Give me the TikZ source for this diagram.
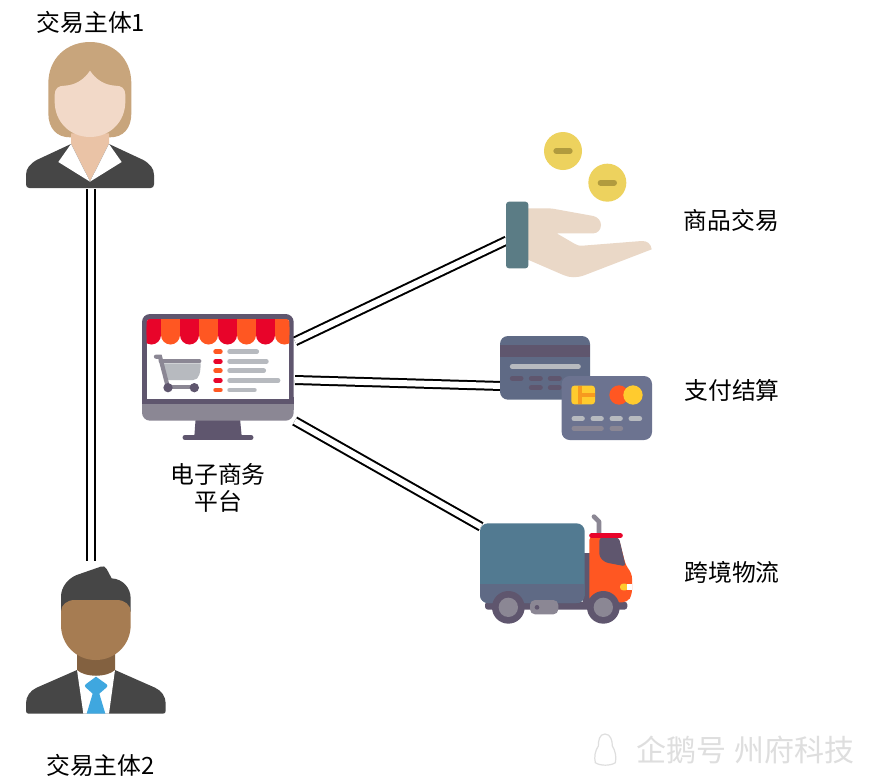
\documentclass[tikz,border=0pt]{standalone}
\usepackage{fontspec}
\newfontfamily\cjk{Noto Sans CJK SC}
\definecolor{hairA}{HTML}{C8A57C}
\definecolor{skinA}{HTML}{F2D9C8}
\definecolor{neckA}{HTML}{EAC3A6}
\definecolor{suit}{HTML}{464646}
\definecolor{skinB}{HTML}{A67C52}
\definecolor{neckB}{HTML}{836140}
\definecolor{tie}{HTML}{3FA7DF}
\definecolor{mdark}{HTML}{5F566E}
\definecolor{mgray}{HTML}{8B8794}
\definecolor{lgray}{HTML}{B7BABF}
\definecolor{ared}{HTML}{E8042A}
\definecolor{aorange}{HTML}{FF5722}
\definecolor{coin}{HTML}{EDD25E}
\definecolor{coinbar}{HTML}{B19B3E}
\definecolor{cuff}{HTML}{5B7C85}
\definecolor{hand}{HTML}{EAD8C7}
\definecolor{cardA}{HTML}{5F6A85}
\definecolor{cardB}{HTML}{6C7390}
\definecolor{yel}{HTML}{FFCB2E}
\definecolor{chipo}{HTML}{F79A1F}
\definecolor{cargo}{HTML}{527A91}
\definecolor{wm}{HTML}{DEDEDE}
\tikzset{
  lbl/.style={font=\cjk\fontsize{23.8}{27}\selectfont,text=black,inner sep=0pt,align=center},
  wmark/.style={font=\cjk\fontsize{30}{32}\selectfont,text=wm,inner sep=0pt},
  link/.style={draw=black,line width=2pt,double=white,double distance=6pt},
  zoomed/.style={scale=0.33333},
  bar/.style={line width=#1,line cap=round},
}
\begin{document}
\begin{tikzpicture}[x=1pt,y=-1pt]
\useasboundingbox (0,0) rectangle (872,782);
\fill[white] (0,0) rectangle (872,782);
% connector ends
\coordinate (w1) at (91,189);
\coordinate (m1) at (91,561);
\coordinate (pa) at (295,341.3);
\coordinate (ha) at (506.7,240.5);
\coordinate (pb) at (295,380);
\coordinate (cb) at (502,386);
\coordinate (pc) at (294.7,421);
\coordinate (tc) at (481,526.7);
\draw[link] (w1) -- (m1);
\draw[link] (pa) -- (ha);
\draw[link] (pb) -- (cb);
\draw[link] (pc) -- (tc);
% woman
\begin{scope}[shift={(0,0)},zoomed]
\fill[hairA] (145,340) -- (145,250) .. controls (145,175) and (200,126) .. (270,126) .. controls (340,126) and (394,175) .. (394,250) -- (394,340) .. controls (394,385) and (370,412) .. (330,412) -- (210,412) .. controls (170,412) and (145,385) .. (145,340) -- cycle;
\fill[neckA] (213,400) -- (327,400) -- (327,432) -- (270,545) -- (213,432) -- cycle;
\fill[suit] (213,432) -- (110,480) .. controls (90,492) and (78,505) .. (78,525) -- (78,553) .. controls (78,560) and (82,564) .. (88,564) -- (452,564) .. controls (458,564) and (462,560) .. (462,553) -- (462,525) .. controls (462,505) and (450,492) .. (430,480) -- (327,432) -- (270,545) -- cycle;
\fill[white] (213,432) -- (175,486) -- (270,545) -- cycle;
\fill[white] (327,432) -- (365,486) -- (270,545) -- cycle;
\fill[skinA] (164,285) .. controls (164,265) and (175,257) .. (195,257) .. controls (230,255) and (255,235) .. (270,212) .. controls (285,235) and (310,255) .. (345,257) .. controls (365,257) and (376,265) .. (376,285) -- (376,305) .. controls (376,365) and (330,411) .. (270,411) .. controls (210,411) and (164,365) .. (164,305) -- cycle;
\end{scope}
% man
\begin{scope}[shift={(10,555)},zoomed]
\fill[suit] (201,345) -- (80,398) .. controls (60,407) and (48,425) .. (48,445) -- (48,468) .. controls (48,473) and (51,476) .. (56,476) -- (459,476) .. controls (464,476) and (467,473) .. (467,468) -- (467,445) .. controls (467,425) and (455,407) .. (435,398) -- (315,345) -- cycle;
\fill[white] (201,345) -- (220,476) -- (297,476) -- (315,345) -- cycle;
\fill[neckB] (201,290) -- (315,290) -- (315,345) .. controls (290,368) and (226,368) .. (201,345) -- cycle;
\fill[tie] (258,365) -- (290,388) .. controls (293,391) and (293,394) .. (290,397) -- (268,416) -- (286,476) -- (230,476) -- (248,416) -- (227,397) .. controls (224,394) and (224,391) .. (227,388) -- cycle;
\fill[suit] (153,170) -- (153,125) .. controls (153,95) and (175,70) .. (200,60) -- (272,35) .. controls (280,32) and (286,34) .. (290,42) -- (305,70) .. controls (340,72) and (362,100) .. (362,130) -- (362,170) -- cycle;
\fill[skinB] (153,170) .. controls (153,150) and (170,135) .. (195,135) -- (320,135) .. controls (345,135) and (362,150) .. (362,170) -- (362,210) .. controls (362,270) and (315,315) .. (257,315) .. controls (200,315) and (153,270) .. (153,210) -- cycle;
\end{scope}
% monitor
\begin{scope}[shift={(130,300)},zoomed]
\fill[mdark] (197,355) -- (330,355) -- (335,408) -- (193,408) -- cycle;
\draw[mdark,bar=5pt] (165,412.5) -- (363,412.5);
\fill[mgray,rounded corners=8pt] (36,300) rectangle (491,362);
\fill[mdark,rounded corners=8pt] (36,42) -- (491,42) -- (491,312) -- (36,312) -- cycle;
\fill[mgray] (36,312) rectangle (491,330);
\fill[mdark] (36,290) rectangle (491,312);
\fill[white] (50,60) rectangle (478,297);
\begin{scope}
\clip[rounded corners=3pt] (50,57) rectangle (478,140);
\foreach \c/\k in {64.5/ared,121.5/aorange,178.5/ared,235.5/aorange,292.5/ared,349.5/aorange,406.5/ared,463.5/aorange}{
  \fill[\k] (\c-28.5,50) rectangle (\c+28.5,105);
  \fill[\k] (\c,105) ellipse [x radius=28.5,y radius=28.5];
}
\end{scope}
% cart
\fill[lgray] (98,190) -- (212,190) .. controls (212,215) and (208,240) .. (190,240) -- (113,240) -- cycle;
\draw[mgray,bar=4.2pt] (92,184) -- (208,184);
\draw[mgray,bar=4.2pt] (78,170) -- (90,170) -- (112,255);
\draw[mgray,line width=4pt] (114,262) -- (193,262);
\fill[mdark] (114,263) circle (14) (193,263) circle (14);
% list
\foreach \y/\k/\e in {155/aorange/380,184/ared/409,212/aorange/401,241/ared/444,270/aorange/373}{
  \draw[\k,bar=4.8pt] (257,\y) -- (271,\y);
  \draw[lgray,bar=4.8pt] (299,\y) -- (\e,\y);
}
\end{scope}
% coins and hand
\begin{scope}[shift={(490,120)},zoomed]
\fill[coin] (219,93) circle (57) (352,188) circle (57);
\draw[coinbar,bar=6pt] (199,93) -- (239,93);
\draw[coinbar,bar=6pt] (332,188) -- (372,188);
\fill[hand] (100,265) -- (170,265) .. controls (185,265) and (195,267) .. (205,269) -- (310,288) .. controls (323,291) and (333,302) .. (333,315) .. controls (333,330) and (322,340) .. (310,340) -- (200,340) -- (255,372) .. controls (262,376) and (268,378) .. (278,377) -- (455,363) .. controls (472,362) and (483,372) .. (485,388) -- (285,465) .. controls (262,474) and (240,474) .. (220,465) -- (100,413) -- cycle;
\fill[cuff,rounded corners=3pt] (48,245) rectangle (115,445);
\end{scope}
% cards
\begin{scope}[shift={(490,325)},zoomed]
\fill[cardA,rounded corners=8pt] (30,33) rectangle (300,224);
\fill[mdark] (30,60) rectangle (300,97);
\draw[lgray,bar=5pt] (67,125) -- (265,125);
\foreach \a/\b/\y in {67/93/160,124/151/160,181/208/160,124/151/188,181/208/188}{
  \draw[mdark,bar=5pt] (\a,\y) -- (\b,\y);
}
\fill[cardB,rounded corners=8pt] (215,153) rectangle (486,345);
\fill[yel,rounded corners=3pt] (244,182) rectangle (315,238);
\fill[chipo] (265,182) rectangle (277,238);
\fill[chipo] (277,205) rectangle (315,215);
\fill[aorange] (387,210) circle (29);
\fill[yel] (429,210) circle (29);
\foreach \a/\b in {252/277,309/334,366/391,423/449}{
  \draw[lgray,bar=5pt] (\a,281) -- (\b,281);
}
\draw[mgray,bar=5pt] (252,310) -- (334,310);
\draw[mgray,bar=5pt] (366,310) -- (392,310);
\end{scope}
% truck
\begin{scope}[shift={(470,505)},zoomed]
\draw[mgray,line width=4.7pt,line cap=round,line join=round] (372,35) -- (387,50) -- (387,90);
\fill[mdark,rounded corners=3pt] (45,290) rectangle (472,314);
\fill[mdark] (340,143) rectangle (360,293);
\fill[aorange,rounded corners=5pt] (358,90) -- (358,292) -- (472,292) -- (486,270) -- (486,205) -- (468,183) -- (445,95) -- cycle;
\fill[mdark,rounded corners=3pt] (388,98) -- (447,98) -- (467,184) -- (405,172) -- (388,155) -- cycle;
\draw[ared,bar=5pt] (365,92) -- (451,92);
\fill[yel,rounded corners=3pt] (450,236) rectangle (475,256);
\fill[white] (472,236) rectangle (486,256);
\fill[cargo,rounded corners=8pt] (30,55) rectangle (344,294);
\begin{scope}
\clip[rounded corners=8pt] (30,55) rectangle (344,294);
\fill[cardA] (30,236) rectangle (344,294);
\end{scope}
\foreach \c in {115,400}{
  \fill[mdark] (\c,307) circle (49);
  \fill[mgray] (\c,307) circle (29);
}
\fill[mgray,rounded corners=5pt] (180,285) rectangle (265,328);
\fill[mdark] (201,307) circle (7);
\end{scope}
% labels
\node[lbl] (t1) at (91,22) {交易主体1};
\node[lbl] (t2) at (100.5,765) {交易主体2};
\node[lbl] (t3) at (218,487.5) {电子商务\\平台};
\node[lbl] (t4) at (731.5,220) {商品交易};
\node[lbl] (t5) at (732,390) {支付结算};
\node[lbl] (t6) at (732,572) {跨境物流};
% watermark
\begin{scope}[shift={(580,720)},zoomed]
\draw[wm,line width=1.2pt,line join=round] (75,42) .. controls (58,42) and (55,62) .. (55,78) .. controls (45,92) and (42,112) .. (46,128) .. controls (60,138) and (92,138) .. (106,128) .. controls (110,112) and (106,92) .. (97,78) .. controls (97,62) and (92,42) .. (75,42) -- cycle;
\end{scope}
\node[wmark] (w1t) at (681.5,750) {企鹅号};
\node[wmark] (w2t) at (794.5,750) {州府科技};
\end{tikzpicture}
\end{document}
